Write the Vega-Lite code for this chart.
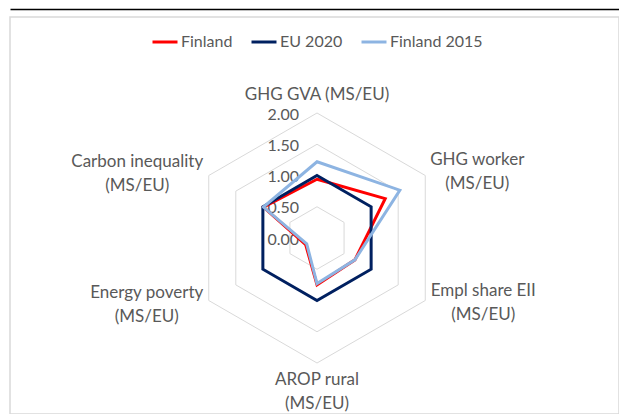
{
  "$schema": "https://vega.github.io/schema/vega-lite/v6.json",
  "width": 609,
  "height": 397,
  "padding": {"left": 10, "top": 17, "right": 0, "bottom": 0},
  "autosize": {"type": "none"},
  "background": "white",
  "config": {
    "view": {"stroke": "#D9D9D9", "strokeWidth": 1.5},
    "font": "Lato",
    "legend": {
      "orient": "none",
      "legendX": 141,
      "legendY": 11,
      "direction": "horizontal",
      "symbolType": "stroke",
      "symbolSize": 625,
      "symbolStrokeWidth": 3,
      "labelFontSize": 16,
      "labelColor": "#595959",
      "labelOffset": 2,
      "columnPadding": 12,
      "title": null
    }
  },
  "datasets": {
    "series": [
      {"series": "Finland", "i": 0, "value": 0.94},
      {"series": "Finland", "i": 1, "value": 1.26},
      {"series": "Finland", "i": 2, "value": 0.70},
      {"series": "Finland", "i": 3, "value": 0.75},
      {"series": "Finland", "i": 4, "value": 0.21},
      {"series": "Finland", "i": 5, "value": 0.99},
      {"series": "EU 2020", "i": 0, "value": 1.0},
      {"series": "EU 2020", "i": 1, "value": 1.0},
      {"series": "EU 2020", "i": 2, "value": 1.0},
      {"series": "EU 2020", "i": 3, "value": 1.0},
      {"series": "EU 2020", "i": 4, "value": 1.0},
      {"series": "EU 2020", "i": 5, "value": 1.0},
      {"series": "Finland 2015", "i": 0, "value": 1.22},
      {"series": "Finland 2015", "i": 1, "value": 1.53},
      {"series": "Finland 2015", "i": 2, "value": 0.70},
      {"series": "Finland 2015", "i": 3, "value": 0.73},
      {"series": "Finland 2015", "i": 4, "value": 0.19},
      {"series": "Finland 2015", "i": 5, "value": 0.99}
    ],
    "grid": [
      {"r": 0.5, "i": 0}, {"r": 0.5, "i": 1}, {"r": 0.5, "i": 2}, {"r": 0.5, "i": 3}, {"r": 0.5, "i": 4}, {"r": 0.5, "i": 5},
      {"r": 1.0, "i": 0}, {"r": 1.0, "i": 1}, {"r": 1.0, "i": 2}, {"r": 1.0, "i": 3}, {"r": 1.0, "i": 4}, {"r": 1.0, "i": 5},
      {"r": 1.5, "i": 0}, {"r": 1.5, "i": 1}, {"r": 1.5, "i": 2}, {"r": 1.5, "i": 3}, {"r": 1.5, "i": 4}, {"r": 1.5, "i": 5},
      {"r": 2.0, "i": 0}, {"r": 2.0, "i": 1}, {"r": 2.0, "i": 2}, {"r": 2.0, "i": 3}, {"r": 2.0, "i": 4}, {"r": 2.0, "i": 5}
    ],
    "ticks": [
      {"r": 0.0}, {"r": 0.5}, {"r": 1.0}, {"r": 1.5}, {"r": 2.0}
    ],
    "cats": [
      {"i": 0, "label": "GHG GVA (MS/EU)", "r": 2.0},
      {"i": 1, "label": "GHG worker\n(MS/EU)", "r": 2.0},
      {"i": 2, "label": "Empl share EII\n(MS/EU)", "r": 2.0},
      {"i": 3, "label": "AROP rural\n(MS/EU)", "r": 2.0},
      {"i": 4, "label": "Energy poverty\n(MS/EU)", "r": 2.0},
      {"i": 5, "label": "Carbon inequality\n(MS/EU)", "r": 2.0}
    ]
  },
  "layer": [
    {
      "data": {"name": "grid"},
      "transform": [
        {"calculate": "datum.r * sin(datum.i * PI / 3)", "as": "x"},
        {"calculate": "datum.r * cos(datum.i * PI / 3)", "as": "y"}
      ],
      "mark": {"type": "line", "interpolate": "linear-closed", "color": "#D9D9D9", "strokeWidth": 1},
      "encoding": {
        "x": {"field": "x", "type": "quantitative", "scale": {"domain": [-4.912, 4.832], "nice": false, "zero": false},
          "axis": {"orient": "top", "domain": true, "domainColor": "#000000", "domainWidth": 1.5, "ticks": false, "labels": false, "grid": false, "title": null, "offset": 8}},
        "y": {"field": "y", "type": "quantitative", "scale": {"domain": [-2.816, 3.536], "nice": false, "zero": false}, "axis": null},
        "detail": {"field": "r"},
        "order": {"field": "i"}
      }
    },
    {
      "data": {"name": "ticks"},
      "mark": {"type": "text", "align": "right", "baseline": "middle", "dx": -18, "dy": 1.5, "fontSize": 16, "color": "#595959"},
      "encoding": {
        "x": {"datum": 0, "type": "quantitative"},
        "y": {"field": "r", "type": "quantitative"},
        "text": {"field": "r", "type": "quantitative", "format": ".2f"}
      }
    },
    {
      "data": {"name": "series"},
      "transform": [
        {"calculate": "datum.value * sin(datum.i * PI / 3)", "as": "x"},
        {"calculate": "datum.value * cos(datum.i * PI / 3)", "as": "y"}
      ],
      "mark": {"type": "line", "interpolate": "linear-closed", "strokeWidth": 3},
      "encoding": {
        "x": {"field": "x", "type": "quantitative"},
        "y": {"field": "y", "type": "quantitative"},
        "color": {"field": "series", "type": "nominal",
          "scale": {"domain": ["Finland", "EU 2020", "Finland 2015"], "range": ["#FF0000", "#002060", "#8DB4E2"]}},
        "order": {"field": "i"}
      }
    },
    {
      "data": {"name": "cats"},
      "transform": [
        {"filter": "datum.i == 0"},
        {"calculate": "datum.r * sin(datum.i * PI / 3)", "as": "x"},
        {"calculate": "datum.r * cos(datum.i * PI / 3)", "as": "y"}
      ],
      "mark": {"type": "text", "align": "center", "baseline": "middle", "dx": 0, "dy": -18, "fontSize": 17, "color": "#595959", "lineBreak": "\n", "lineHeight": 23.5},
      "encoding": {"x": {"field": "x", "type": "quantitative"}, "y": {"field": "y", "type": "quantitative"}, "text": {"field": "label"}}
    },
    {
      "data": {"name": "cats"},
      "transform": [
        {"filter": "datum.i == 1"},
        {"calculate": "datum.r * sin(datum.i * PI / 3)", "as": "x"},
        {"calculate": "datum.r * cos(datum.i * PI / 3)", "as": "y"}
      ],
      "mark": {"type": "text", "align": "center", "baseline": "middle", "dx": 52, "dy": -15.5, "fontSize": 17, "color": "#595959", "lineBreak": "\n", "lineHeight": 23.5},
      "encoding": {"x": {"field": "x", "type": "quantitative"}, "y": {"field": "y", "type": "quantitative"}, "text": {"field": "label"}}
    },
    {
      "data": {"name": "cats"},
      "transform": [
        {"filter": "datum.i == 2"},
        {"calculate": "datum.r * sin(datum.i * PI / 3)", "as": "x"},
        {"calculate": "datum.r * cos(datum.i * PI / 3)", "as": "y"}
      ],
      "mark": {"type": "text", "align": "center", "baseline": "middle", "dx": 58, "dy": -9.5, "fontSize": 17, "color": "#595959", "lineBreak": "\n", "lineHeight": 23.5},
      "encoding": {"x": {"field": "x", "type": "quantitative"}, "y": {"field": "y", "type": "quantitative"}, "text": {"field": "label"}}
    },
    {
      "data": {"name": "cats"},
      "transform": [
        {"filter": "datum.i == 3"},
        {"calculate": "datum.r * sin(datum.i * PI / 3)", "as": "x"},
        {"calculate": "datum.r * cos(datum.i * PI / 3)", "as": "y"}
      ],
      "mark": {"type": "text", "align": "center", "baseline": "middle", "dx": 0, "dy": 17, "fontSize": 17, "color": "#595959", "lineBreak": "\n", "lineHeight": 23.5},
      "encoding": {"x": {"field": "x", "type": "quantitative"}, "y": {"field": "y", "type": "quantitative"}, "text": {"field": "label"}}
    },
    {
      "data": {"name": "cats"},
      "transform": [
        {"filter": "datum.i == 4"},
        {"calculate": "datum.r * sin(datum.i * PI / 3)", "as": "x"},
        {"calculate": "datum.r * cos(datum.i * PI / 3)", "as": "y"}
      ],
      "mark": {"type": "text", "align": "center", "baseline": "middle", "dx": -62, "dy": -7.5, "fontSize": 17, "color": "#595959", "lineBreak": "\n", "lineHeight": 23.5},
      "encoding": {"x": {"field": "x", "type": "quantitative"}, "y": {"field": "y", "type": "quantitative"}, "text": {"field": "label"}}
    },
    {
      "data": {"name": "cats"},
      "transform": [
        {"filter": "datum.i == 5"},
        {"calculate": "datum.r * sin(datum.i * PI / 3)", "as": "x"},
        {"calculate": "datum.r * cos(datum.i * PI / 3)", "as": "y"}
      ],
      "mark": {"type": "text", "align": "center", "baseline": "middle", "dx": -71.5, "dy": -13.5, "fontSize": 17, "color": "#595959", "lineBreak": "\n", "lineHeight": 23.5},
      "encoding": {"x": {"field": "x", "type": "quantitative"}, "y": {"field": "y", "type": "quantitative"}, "text": {"field": "label"}}
    }
  ]
}
